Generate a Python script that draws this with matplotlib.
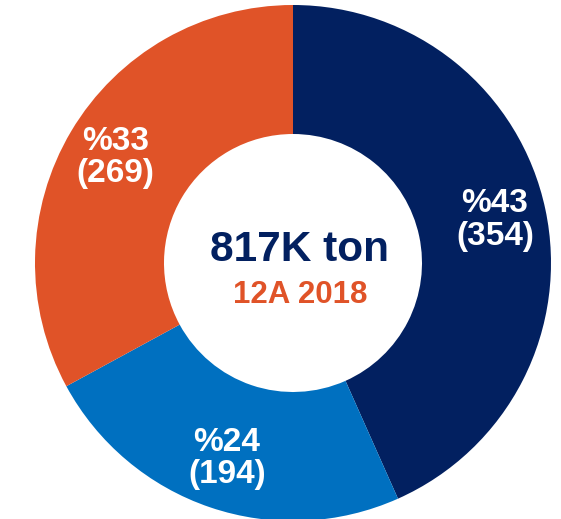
import matplotlib
matplotlib.use("Agg")
import matplotlib.pyplot as plt

categories = ["A", "B", "C"]
values = [354, 194, 269]
colors = ["#022060", "#0070C0", "#E05328"]
center_title = "817K ton"
center_sub = "12A 2018"

plt.rcParams['font.family'] = ['Liberation Sans', 'DejaVu Sans']

fig = plt.figure(figsize=(5.61, 5.19), dpi=100)
ax = fig.add_axes([0, 0, 1, 1])

total = sum(values)

def fmt(pct):
    v = round(pct * total / 100.0)
    return "%{:d}\n({:d})".format(int(round(pct)), int(v))

wedges, texts, autotexts = ax.pie(
    values, colors=colors, startangle=90, counterclock=False,
    radius=1.0, wedgeprops=dict(width=0.5, edgecolor='none'),
    autopct=fmt, pctdistance=0.8,
    textprops=dict(color='white', fontsize=24, fontweight='bold', linespacing=1.05),
)
for t in autotexts:
    t.set_ha('center')
    t.set_va('center')

cx, cy, r = 293, 263, 258
ax.set_aspect('auto')
ax.set_xlim(-cx / r, (561 - cx) / r)
ax.set_ylim((cy - 519) / r, cy / r)
ax.axis('off')

ax.text(0.027, 0.050, center_title, ha='center', va='center', fontsize=30.5,
        fontweight='bold', color="#022060")
ax.text(0.027, -0.124, center_sub, ha='center', va='center', fontsize=22.5,
        fontweight='bold', color="#E05328")

fig.savefig("out.png", dpi=100)
